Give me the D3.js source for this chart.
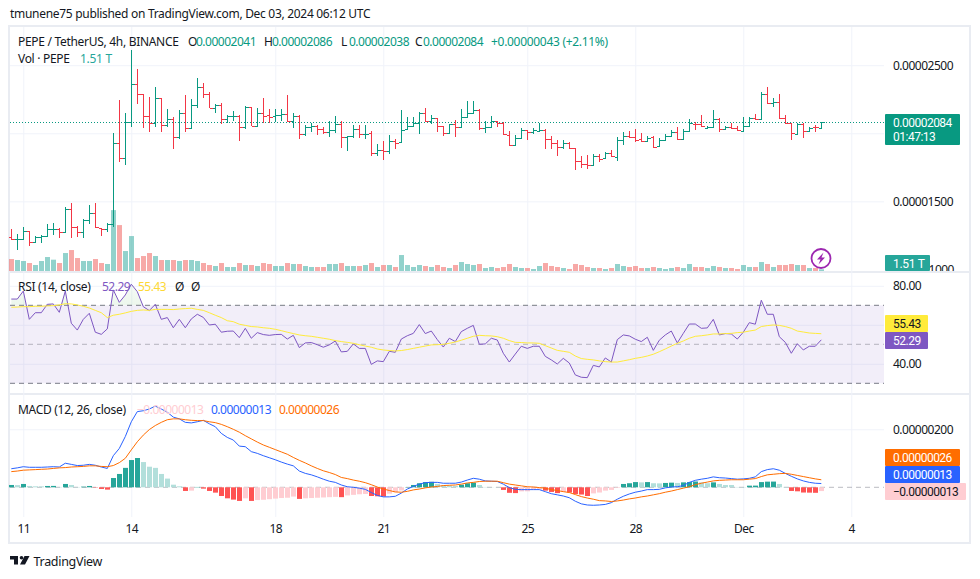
<!DOCTYPE html>
<html>
<head>
<meta charset="utf-8">
<script src="https://cdnjs.cloudflare.com/ajax/libs/d3/7.8.5/d3.min.js"></script>
<style>
  html, body { margin: 0; padding: 0; background: #fff; }
  svg { display: block; }
  text { font-family: "Noto Sans", sans-serif; font-size: 12px; fill: #131722; }
</style>
</head>
<body>
<div id="chart"></div>
<script>
// prices are in units of 0.00000001
const opens = [
  1240,1221,1226,1280,1201,1240,1245,1294,1297,1275,1444,1309,1275,1363,1412,1304,1297,1336,1931,1816,
  2081,2360,2287,2125,2074,2257,2061,2108,1971,2147,2037,2206,2338,2289,2189,2211,2103,2127,2130,2044,
  2196,2056,2152,2135,2127,2135,2142,2088,2127,1995,2049,2054,2029,2010,2022,2069,1971,1978,2029,1995,
  2005,1853,1878,1870,1941,1934,2029,2056,2074,2149,2088,2110,2051,2000,2069,2044,2118,2147,2174,2042,
  2049,2091,2078,1988,1914,1968,2022,2007,2015,2027,1956,1929,1897,1931,1895,1797,1772,1770,1836,1816,
  1855,1826,1949,1980,1973,1956,1946,1973,1909,1949,1983,2012,1956,2017,2071,2069,2037,2049,2105,2029,
  2049,2042,2020,2054,2113,2103,2289,2225,2230,2110,2074,1998,2069,2015,2044,2041];
const highs = [
  1297,1260,1309,1280,1245,1253,1334,1339,1304,1456,1486,1321,1370,1473,1486,1304,1343,2000,2245,2147,
  2608,2470,2287,2270,2343,2257,2176,2122,2172,2282,2250,2404,2368,2306,2216,2225,2135,2164,2137,2201,
  2196,2184,2257,2176,2176,2176,2282,2147,2132,2059,2078,2059,2044,2093,2127,2088,1980,2059,2061,2061,
  2015,1922,1946,1988,1958,2172,2122,2122,2159,2186,2135,2113,2051,2069,2098,2176,2238,2238,2176,2093,
  2127,2093,2081,2017,1988,2037,2025,2037,2078,2032,1983,1951,1949,1934,1895,1833,1841,1848,1848,1863,
  1878,1973,2010,2017,2032,2000,1983,1980,1963,1995,2022,2049,2029,2105,2086,2135,2054,2172,2110,2054,
  2074,2054,2118,2122,2142,2301,2338,2257,2289,2135,2078,2074,2074,2044,2061,2086];
const lows = [
  1216,1142,1221,1172,1192,1192,1245,1253,1231,1275,1233,1240,1231,1334,1304,1245,1272,1309,1792,1767,
  2049,2216,2039,2012,2049,2012,2044,1887,1956,2012,2029,2184,2257,2184,2152,2069,2078,2091,1946,2034,
  2051,2054,2078,2078,2083,2088,2086,2042,1961,1980,2010,1990,1995,1975,2005,1895,1873,1963,1966,1961,
  1833,1833,1804,1851,1887,1931,2025,2044,1998,2083,2069,2012,1983,1998,1975,2039,2115,2147,2025,2005,
  2039,2049,1990,1907,1907,1966,1951,1993,2012,1885,1885,1833,1887,1885,1730,1748,1738,1767,1792,1811,
  1824,1799,1917,1963,1936,1939,1934,1892,1907,1944,1975,1951,1956,2012,2025,2044,2029,2044,2012,2022,
  2029,2020,2012,2049,2098,2098,2213,2196,2105,2066,1951,1990,1966,2010,2012,2038];
const closes = [
  1221,1226,1282,1199,1240,1245,1297,1297,1277,1444,1309,1277,1363,1412,1309,1294,1336,1931,1816,2081,
  2360,2287,2125,2074,2257,2061,2108,1971,2147,2037,2206,2338,2289,2189,2211,2103,2127,2130,2044,2196,
  2056,2152,2127,2122,2135,2142,2088,2127,1995,2049,2054,2029,2010,2022,2069,1971,1978,2029,1995,1997,
  1853,1878,1870,1941,1929,2022,2056,2074,2149,2088,2110,2051,2000,2069,2044,2118,2147,2169,2042,2049,
  2091,2076,1993,1914,1966,2027,2010,2025,2025,1956,1929,1900,1931,1892,1797,1772,1770,1833,1814,1858,
  1831,1949,1980,1971,1953,1946,1968,1900,1949,1980,2010,1956,2020,2074,2069,2054,2047,2105,2034,2047,
  2042,2025,2054,2115,2103,2292,2223,2230,2110,2074,2000,2069,2020,2042,2043,2084];
// volume in trillions
const volumes = [
  10.8,9.9,9,7.2,5.4,9,12.6,10.2,7.2,16.2,18.9,11.7,9,9,10.8,7.2,6.3,54.9,41.4,18,
  31.5,11.7,13.5,16.2,13.5,9.9,9.9,9.9,9,9.9,9.9,9,7.2,5.4,4.5,7.2,3.6,3.6,7.2,5.4,
  5.4,4.5,7.2,6.3,4.5,4.5,7.2,6.3,6.3,4.5,3.6,3.6,3.6,6.3,6.3,7.2,4.5,4.5,4.5,5.4,
  7.2,3.6,5.4,5.4,3.6,14.4,5.4,3.6,5.4,4.5,3.6,5.4,3.6,2.7,5.4,8.1,6.3,5.4,6.3,2.7,
  3.6,2.7,3.6,6.3,3.6,2.7,2.7,1.8,4.5,7.2,4.5,3.6,2.7,1.8,6.3,5.4,3.6,2.7,2.7,1.8,
  2.7,6.3,4.5,3.6,4.5,2.7,2.7,3.6,2.7,1.8,2.7,3.6,2.7,6.3,3.6,3.6,2.7,4.5,3.6,2.7,
  2.7,1.8,5.4,3.6,3.6,8.1,6.3,3.6,5.4,5.4,6.3,5.4,5.4,2.7,2.7,1.51];
const rsiValues = [
  73.2,73.2,77.3,62.8,66.2,66.2,70.5,70.7,66.4,77.3,60.8,57.3,62.8,65.9,56.2,55.1,57.9,77.9,71.5,75.3,
  80.8,77,69.3,67.3,70.5,62.8,63.7,58.5,62.8,58.5,63,65.4,63.8,59.9,60.3,56.2,56.7,56.8,53.4,58.2,
  53.1,56,55,54.6,55,55.1,52.7,54.6,48.3,50.7,50.9,49.8,48.5,49.7,51.7,46.1,46.4,50.2,47.9,47.9,
  39.7,41.5,41.1,46.4,45.9,52.7,54.4,55.6,60.1,55.5,56.8,52.4,48.6,53.1,51.4,56.5,58.2,59.7,50,50.2,
  53.1,52.2,45.4,40.9,45,49,47.9,49,49,43.8,42,39.9,42.8,40.4,34.3,33.1,32.9,39.2,38.4,43,
  40.9,52.4,54.8,54.3,52.6,51.4,53.6,46.9,52.1,54.8,56.8,50.7,55.6,60.4,60.4,58.2,58.4,62.8,54.8,55.5,
  55.3,52.7,56.2,61.1,60.3,72.6,65.4,65.4,53.9,51,45.4,50.3,47.1,49,49,52.29];
const rsiAverage = [
  69,69.1,69.3,69.3,69.5,69.5,69.7,69.8,70.2,70.8,70.7,70.2,69.5,68.6,67.4,66.2,63.7,64.9,65.4,66.1,
  66.9,67.4,67.6,67.4,67.9,67.9,67.9,67.8,68.1,68.3,68.5,67.9,67.4,66.2,64.9,63.7,62.1,61.6,60.3,59.7,
  59.1,58.9,58.5,58.2,57.7,57,56.2,55.5,54.8,54.4,54.1,53.6,53.1,52.6,51.9,51.4,51,50.5,49.8,49.1,
  48.5,47.6,47.1,46.8,46.6,46.8,47.3,47.9,48.5,49.1,49.7,49.8,50,50.5,51.2,52.1,53.1,54.1,54.6,54.4,
  54.3,53.9,53.1,51.9,51,50.9,50.7,50.7,50.5,49.3,48.1,46.9,46.4,45.9,44,42.7,42.3,42,41.5,41.1,
  40.9,40.9,41.5,42.1,42.8,43.3,44,44.9,46.2,47.6,49.1,50.5,51.7,53.1,54.1,54.4,54.8,55.3,55.3,55.5,
  55.6,56,56.2,56.8,57.3,59.1,59.6,59.9,59.7,59.1,58.2,56.8,56.3,55.8,55.6,55.43];
// macd values in units of 0.00000001
const macdValues = [
  64,67,71,69,69,69,70,71,70,83,79,75,76,79,76,70,65,109,134,175,
  226,261,264,270,280,270,259,242,236,224,222,226,231,219,209,186,172,163,142,140,
  123,117,109,102,95,87,80,74,56,48,43,36,28,21,17,8,2,0,-3,-7,
  -18,-28,-33,-33,-31,-20,-6,3,11,16,17,17,14,14,14,18,25,31,28,22,
  21,20,11,-1,-7,-8,-8,-8,-8,-15,-22,-26,-30,-36,-48,-57,-61,-62,-61,-59,
  -53,-41,-31,-23,-17,-13,-8,-8,-7,-2,1,2,6,17,24,28,31,36,33,32,
  30,28,29,31,36,54,61,64,59,48,38,29,22,17,14,13];
const signalValues = [
  54,56,59,60,61,62,63,65,67,68,70,71,72,74,74,72,71,75,85,100,
  129,157,180,199,213,224,233,236,236,233,231,230,230,226,223,217,209,200,190,178,
  167,156,146,138,130,122,114,103,93,84,74,65,57,51,44,34,30,25,21,16,
  9,1,-6,-11,-16,-17,-14,-9,-6,-2,1,3,6,7,8,11,15,17,20,21,
  21,21,16,11,8,5,2,1,-1,-3,-8,-11,-15,-18,-25,-32,-37,-41,-46,-47,
  -49,-47,-44,-40,-37,-33,-30,-26,-22,-17,-13,-8,-3,2,9,14,18,22,24,25,
  26,26,26,28,30,37,43,45,47,48,45,41,37,33,29,26];
const histValues = [
  8,7.5,11.5,4.6,3.4,3.2,4.6,4.8,1.2,11.5,8,1.2,2.3,4.6,-1.2,-5.7,-8,32,46,67,
  94,101,87,71,67,46,30,9,3.4,-12.6,-11.5,1.2,-4.6,-12.6,-18.4,-30,-38,-42.5,-47,-38,
  -47,-44,-43,-41,-39,-37,-36,-32,-40,-38,-37,-36,-35,-34,-33,-34,-28,-26,-24,-23,
  -30,-31,-32,-22,-17,-11,1,8,14,18,19,11.5,7,6,4.6,9,14,16,8,1.2,
  0.6,0.5,-9,-19,-20,-14,-13.8,-9,-8,-11.5,-16,-20,-16,-18,-23,-25,-30,-21,-18,-11.5,
  -9,-2,11.5,14,18,17,18,14,13.5,15,16,15,17,18,20,17,14,17,11.5,8,
  7.9,1.2,1,5.7,5.8,18,19.5,19.7,11.5,1.2,-12.6,-13.8,-18,-18.4,-19,-13];

const dayTicks = [2, 20, 44, 62, 86, 104, 122, 140];
const dayLabels = ["11", "14", "18", "21", "25", "28", "Dec", "4"];
const priceGrid = [1500, 2000, 2500];
const priceLabels = [1500, 2500];
const rsiGrid = [40, 60, 80];
const rsiLabels = [40, 80];
const macdGrid = [200];

const width = 980, height = 579;
const left = 10, right = 884;
const up = "#089981", down = "#f23645";
const grid = "#f0f3fa", frame = "#e9ecf2";
const yellow = "#ffeb3b";

const fmt8 = v => (v * 1e-8).toFixed(8);

const svg = d3.select("#chart").append("svg")
  .attr("width", width).attr("height", height);

const x = d3.scaleLinear().domain([0, 140]).range([11.3, 851.3]);
const yPrice = d3.scaleLinear().domain([1000, 2500]).range([269.4, 65.2]);
const yVol = d3.scaleLinear().domain([0, 55]).range([271, 210]);
const yRsi = d3.scaleLinear().domain([30, 70]).range([383.3, 305.3]);
const yMacd = d3.scaleLinear().domain([0, 200]).range([487.3, 429.3]);

const bars = d3.range(closes.length);
const px = i => Math.floor(x(i)) + 0.5;

// frame and pane separators
svg.append("rect").attr("x", 9).attr("y", 26).attr("width", 961).attr("height", 517)
  .attr("fill", "none").attr("stroke", frame).attr("stroke-width", 2);
[272, 394].forEach(yy => {
  svg.append("line").attr("x1", 10).attr("x2", 970).attr("y1", yy).attr("y2", yy)
    .attr("stroke", frame).attr("stroke-width", 2);
});

// vertical grid from the time axis
svg.append("g").attr("transform", "translate(0,517)")
  .call(d3.axisBottom(x).tickValues(dayTicks).tickSize(-490).tickFormat(""))
  .call(g => g.select(".domain").remove())
  .call(g => g.selectAll("line").attr("stroke", grid));

// horizontal grid
const hGrid = (scale, values) => svg.append("g").attr("transform", "translate(" + right + ",0)")
  .call(d3.axisLeft(scale).tickValues(values).tickSize(right - left).tickFormat(""))
  .call(g => g.select(".domain").remove())
  .call(g => g.selectAll("line").attr("stroke", grid));
hGrid(yPrice, priceGrid);
hGrid(yRsi, rsiGrid);
hGrid(yMacd, macdGrid);

// volume
svg.append("g").selectAll("rect").data(bars).join("rect")
  .attr("x", i => Math.floor(x(i)) - 2)
  .attr("width", 5)
  .attr("y", i => yVol(volumes[i]))
  .attr("height", i => yVol(0) - yVol(volumes[i]))
  .attr("fill", i => closes[i] >= opens[i] ? "#26a69a" : "#ef5350")
  .attr("opacity", 0.5);

// last price line
const lastY = Math.round(yPrice(closes[135])) + 0.5;
svg.append("line").attr("x1", left).attr("x2", right)
  .attr("y1", lastY).attr("y2", lastY)
  .attr("stroke", up).attr("stroke-dasharray", "1 2").attr("stroke-width", 1)
  .attr("shape-rendering", "crispEdges");

// ohlc bars
const ohlc = svg.append("g").attr("shape-rendering", "crispEdges");
const barColor = i => closes[i] >= opens[i] ? up : down;
ohlc.selectAll(".stem").data(bars).join("line").attr("class", "stem")
  .attr("x1", px).attr("x2", px)
  .attr("y1", i => yPrice(highs[i])).attr("y2", i => yPrice(lows[i]))
  .attr("stroke", barColor);
ohlc.selectAll(".open").data(bars).join("line").attr("class", "open")
  .attr("x1", i => px(i) - 3).attr("x2", px)
  .attr("y1", i => Math.round(yPrice(opens[i])) + 0.5).attr("y2", i => Math.round(yPrice(opens[i])) + 0.5)
  .attr("stroke", barColor);
ohlc.selectAll(".close").data(bars).join("line").attr("class", "close")
  .attr("x1", px).attr("x2", i => px(i) + 3)
  .attr("y1", i => Math.round(yPrice(closes[i])) + 0.5).attr("y2", i => Math.round(yPrice(closes[i])) + 0.5)
  .attr("stroke", barColor);

// rsi band
svg.append("rect").attr("x", left).attr("width", right - left)
  .attr("y", yRsi(70)).attr("height", yRsi(30) - yRsi(70))
  .attr("fill", "#7e57c2").attr("opacity", 0.1);
[[70, 1], [30, 1], [50, 0.5]].forEach(([v, o]) => {
  svg.append("line").attr("x1", left).attr("x2", right)
    .attr("y1", yRsi(v)).attr("y2", yRsi(v))
    .attr("stroke", "#787b86").attr("stroke-dasharray", "5 4").attr("opacity", o);
});

// overbought fill
const defs = svg.append("defs");
defs.append("clipPath").attr("id", "above70").append("rect")
  .attr("x", left).attr("y", 270).attr("width", right - left).attr("height", yRsi(70) - 270);
defs.append("clipPath").attr("id", "mainPane").append("rect")
  .attr("x", 884).attr("y", 27).attr("width", 85).attr("height", 244);
const obFill = defs.append("linearGradient").attr("id", "obFill")
  .attr("x1", 0).attr("x2", 0).attr("y1", 0).attr("y2", 1);
obFill.append("stop").attr("offset", "0%").attr("stop-color", "#4caf50").attr("stop-opacity", 0.05);
obFill.append("stop").attr("offset", "100%").attr("stop-color", "#4caf50").attr("stop-opacity", 0.3);
svg.append("path").datum(bars)
  .attr("clip-path", "url(#above70)")
  .attr("fill", "url(#obFill)")
  .attr("d", d3.area().x(i => x(i)).y0(yRsi(70)).y1(i => yRsi(rsiValues[i])));

const lineOf = (values, scale) => d3.line().x(i => x(i)).y(i => scale(values[i]));
const drawLine = (values, scale, color) => svg.append("path").datum(bars)
  .attr("fill", "none").attr("stroke", color).attr("stroke-width", 1)
  .attr("d", lineOf(values, scale));
drawLine(rsiValues, yRsi, "#7e57c2");
drawLine(rsiAverage, yRsi, yellow);

// macd
svg.append("line").attr("x1", left).attr("x2", right)
  .attr("y1", yMacd(0)).attr("y2", yMacd(0))
  .attr("stroke", "#787b86").attr("stroke-dasharray", "5 4").attr("opacity", 0.5);
const histColor = i => {
  const v = histValues[i], prev = i > 0 ? histValues[i - 1] : 0;
  if (v >= 0) return v > prev ? "#26a69a" : "#b2dfdb";
  return v < prev ? "#ff5252" : "#ffcdd2";
};
svg.append("g").selectAll("rect").data(bars).join("rect")
  .attr("x", i => Math.floor(x(i)) - 2)
  .attr("width", 5)
  .attr("y", i => Math.min(yMacd(0), yMacd(histValues[i])))
  .attr("height", i => Math.abs(yMacd(0) - yMacd(histValues[i])))
  .attr("fill", histColor);
drawLine(macdValues, yMacd, "#2962ff");
drawLine(signalValues, yMacd, "#ff6d00");

// text helper, numbers get tighter spacing than words
const label = (xx, yy, str, color, size, anchor) => svg.append("text")
  .attr("x", xx).attr("y", yy).text(str)
  .style("fill", color || "#131722")
  .style("font-size", (size || 12) + "px")
  .style("letter-spacing", /^[\d.:\u2212+]+$/.test(str) ? "-0.5px" : "-0.3px")
  .attr("text-anchor", anchor || "start");

// price axis
const axisText = g => g.call(a => a.select(".domain").remove())
  .call(a => a.selectAll("text").style("fill", "#131722").style("font-size", "12px").style("letter-spacing", "-0.5px"));
svg.append("g").attr("transform", "translate(884,0)")
  .call(d3.axisRight(yPrice).tickValues(priceLabels).tickSize(0).tickPadding(9).tickFormat(fmt8))
  .call(axisText);
svg.append("g").attr("transform", "translate(884,0)")
  .call(d3.axisRight(yRsi).tickValues(rsiLabels).tickSize(0).tickPadding(9).tickFormat(d => d.toFixed(2)))
  .call(axisText);
svg.append("g").attr("transform", "translate(884,0)")
  .call(d3.axisRight(yMacd).tickValues(macdGrid).tickSize(0).tickPadding(9).tickFormat(fmt8))
  .call(axisText);

// time axis
svg.append("g").attr("transform", "translate(0,521)")
  .call(d3.axisBottom(x).tickValues(dayTicks).tickSize(0).tickPadding(3)
    .tickFormat((d, i) => dayLabels[i]))
  .call(axisText);

// only the tail of the 0.00001000 tick shows past the volume tag, cut by the pane edge
label(954, 273.6, "1000", "#131722", 12, "end").attr("clip-path", "url(#mainPane)");

// value tags
const tag = (xx, yy, w, h, fill, color, lines) => {
  svg.append("rect").attr("x", xx).attr("y", yy).attr("width", w).attr("height", h).attr("rx", 1).attr("fill", fill);
  lines.forEach((s, k) => label(xx + 8, yy + 12.5 + k * 14.5, s, color).style("font-family", "Roboto"));
};
tag(885, 114, 75, 31, up, "#fff", [fmt8(closes[135]), "01:47:13"]);
tag(885, 255, 45, 16, "#26a69a", "#fff", ["1.51 T"]);
tag(885, 315, 43, 17, yellow, "#131722", [rsiAverage[135].toFixed(2)]);
tag(885, 332, 43, 17, "#7e57c2", "#fff", [rsiValues[135].toFixed(2)]);
tag(885, 449, 75, 17, "#ff6d00", "#fff", [fmt8(signalValues[135])]);
tag(885, 466, 75, 17, "#2962ff", "#fff", [fmt8(macdValues[135])]);
tag(885, 483, 81, 17, "#ffcdd2", "#131722", ["\u22120.00000013"]);

// header and legends
label(10, 18, "tmunene75 published on TradingView.com, Dec 03, 2024 06:12 UTC");
label(18, 46, "PEPE / TetherUS, 4h, BINANCE");
[["O", 188, fmt8(opens[135])], ["H", 264, fmt8(highs[135])], ["L", 341, fmt8(lows[135])], ["C", 415, fmt8(closes[135])]]
  .forEach(([k, xx, v]) => {
    label(xx, 46, k);
    label(xx + 8, 46, v, up);
  });
label(491, 46, "+0.00000043 (+2.11%)", up);
label(18, 63, "Vol \u00b7 PEPE");
label(80, 63, "1.51 T", "#26a69a");
label(18, 291, "RSI (14, close)");
label(102, 291, rsiValues[135].toFixed(2), "#7e57c2");
label(138, 291, rsiAverage[135].toFixed(2), "#fdd835");
label(175, 291, "\u00d8");
label(191, 291, "\u00d8");
label(18, 414, "MACD (12, 26, close)");
label(137, 414, "\u22120.00000013", "#ffcdd2");
label(211, 414, fmt8(macdValues[135]), "#2962ff");
label(279, 414, fmt8(signalValues[135]), "#ff6d00");

// lightning badge
const badge = svg.append("g").attr("transform", "translate(821,258.5)");
badge.append("circle").attr("r", 9.5).attr("fill", "#fff").attr("stroke", "#9c27b0").attr("stroke-width", 1.8);
badge.append("path").attr("d", "M2.5,-6 L-4,1 L-0.5,1 L-2.5,6 L4,-1 L0.5,-1 Z").attr("fill", "#9c27b0");

// logo
const logo = svg.append("g").attr("transform", "translate(10,556)").attr("fill", "#131722");
logo.append("path").attr("d", "M0,0 H8 V8.5 H4 V3.5 H0 Z");
logo.append("circle").attr("cx", 11.5).attr("cy", 1.8).attr("r", 1.8);
logo.append("path").attr("d", "M14.5,0 H19.5 L15,8.5 H10 Z");
label(33.5, 566, "TradingView", "#131722", 12.5);
</script>
</body>
</html>
